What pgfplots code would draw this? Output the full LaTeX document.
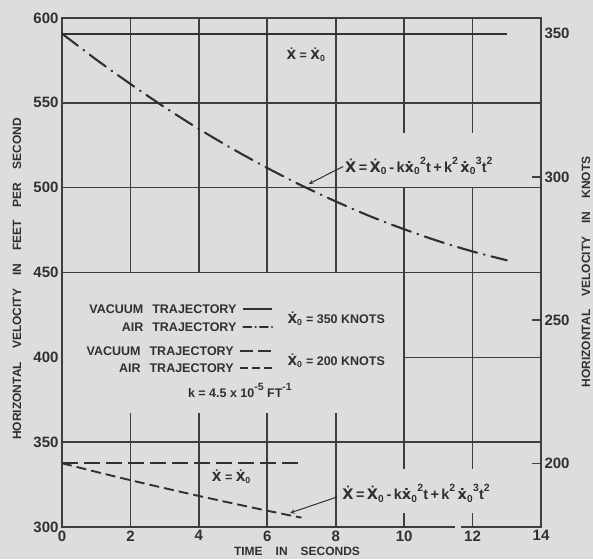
\documentclass[border=0pt]{standalone}
\usepackage{fontspec}
\setmainfont{Liberation Sans}
\newfontfamily\dvs{DejaVu Sans}
\usepackage{pgfplots}
\pgfplotsset{compat=1.18}

\definecolor{paper}{RGB}{221,222,219}
\definecolor{ink}{RGB}{48,48,48}
\definecolor{rule}{RGB}{62,62,62}

% dotted (time-derivative) letters
\newcommand{\Xd}{{\dvs\bfseries Ẋ}}
\newcommand{\xd}{{\dvs\bfseries ẋ}}
\newcommand{\sub}[1]{\textsubscript{#1}}
\newcommand{\up}[1]{\raisebox{0.55em}{\fontsize{10.5}{10.5}\selectfont #1}}
\newcommand{\gap}{\hspace{13pt}}
\newcommand{\lbl}{\fontsize{12.5}{12.5}\selectfont\bfseries}
\newcommand{\eqf}{\fontsize{14.5}{14.5}\selectfont\bfseries}
\newcommand{\airlaw}{\Xd\,=\,\Xd\sub{0}\,-\,k\xd\sub{0}\up{2}t\,+\,k\up{2}\,\xd\sub{0}\up{3}t\up{2}}

\begin{document}
\begin{tikzpicture}[x=1pt,y=1pt]
\fill[paper] (0,0) rectangle (593,559);
\useasboundingbox (0,0) rectangle (593,559);

% ---------------- feet per second ----------------
\begin{axis}[
  at={(62pt,32pt)}, anchor=south west,
  scale only axis, width=479pt, height=509pt,
  xmin=0, xmax=14, ymin=300, ymax=600,
  xtick={0,2,...,14}, ytick={300,350,...,600},
  major tick length=0pt,
  axis line style={draw=rule, line width=1.6pt},
  /pgf/number format/assume math mode=true,
  ticklabel style={font=\fontsize{15}{15}\selectfont\bfseries, text=ink},
  clip=false,
]
% grid, interrupted around the key and the labels
\tikzset{gl/.style={draw=rule, line width=1.6pt}}
\draw[gl] (2,600) -- (2,450);  \draw[gl] (2,367) -- (2,300);
\draw[gl] (4,600) -- (4,450);  \draw[gl] (4,367) -- (4,300);
\draw[gl] (6,600) -- (6,450);  \draw[gl] (6,367) -- (6,300);
\draw[gl] (8,600) -- (8,450);  \draw[gl] (8,367) -- (8,300);
\draw[gl] (10,600) -- (10,532); \draw[gl] (10,500) -- (10,334); \draw[gl] (10,308) -- (10,300);
\draw[gl] (12,600) -- (12,532); \draw[gl] (12,500) -- (12,334); \draw[gl] (12,308) -- (12,300);
\draw[gl] (0,550) -- (14,550);
\draw[gl] (0,500) -- (14,500);
\draw[gl] (0,450) -- (14,450);
\draw[gl] (10,400) -- (14,400);
\draw[gl] (0,350) -- (14,350);

% vacuum trajectory, 350 knots
\addplot[draw=ink, line width=2.1pt] coordinates {(0,590.8) (13,590.8)};
% air trajectory, 350 knots
\addplot[draw=ink, line width=2.1pt, smooth, line cap=round,
  dash pattern=on 20pt off 7pt on 0.8pt off 7pt] coordinates {
  (0,590.8) (1,575.5) (2,561.1) (3,547.4) (4,534.6) (5,522.7) (6,511.6)
  (7,501.3) (8,491.9) (9,483.2) (10,475.5) (11,468.5) (12,462.4) (13,457.2)};
% vacuum trajectory, 200 knots
\addplot[draw=ink, line width=2.1pt, dash pattern=on 16pt off 6pt] coordinates {(0,337.6) (7,337.6)};
% air trajectory, 200 knots
\addplot[draw=ink, line width=1.9pt, smooth, dash pattern=on 10pt off 5pt] coordinates {
  (0,337.6) (1,332.5) (2,327.6) (3,322.9) (4,318.3) (5,313.9) (6,309.6) (7,305.5)};

% key samples
\addplot[draw=ink, line width=1.9pt] coordinates {(5.3,428.5) (6.14,428.5)};
\addplot[draw=ink, line width=1.9pt, line cap=round, dash pattern=on 8pt off 4pt on 0.6pt off 4pt]
  coordinates {(5.3,417.9) (6.14,417.9)};
\addplot[draw=ink, line width=1.9pt, dash pattern=on 13pt off 5pt] coordinates {(5.2,403.8) (6.14,403.8)};
\addplot[draw=ink, line width=1.9pt, dash pattern=on 8pt off 4pt] coordinates {(5.2,393.8) (6.14,393.8)};

% key text
\node[anchor=east, font=\lbl, text=ink] at (5.2,428.5) {VACUUM\hspace{9pt}TRAJECTORY};
\node[anchor=east, font=\lbl, text=ink] at (5.2,417.9) {AIR\hspace{9pt}TRAJECTORY};
\node[anchor=east, font=\lbl, text=ink] at (5.12,403.8) {VACUUM\hspace{9pt}TRAJECTORY};
\node[anchor=east, font=\lbl, text=ink] at (5.12,393.8) {AIR\hspace{9pt}TRAJECTORY};
\node[anchor=base west, font=\lbl, text=ink] at (6.49,420.0) {\Xd\sub{0} = 350 KNOTS};
\node[anchor=base west, font=\lbl, text=ink] at (6.49,395.2) {\Xd\sub{0} = 200 KNOTS};
\node[anchor=base, font=\lbl, text=ink] at (5.2,376.4)
  {k = 4.5 x 10\up{-5} FT\up{-1}};

% curve labels
\node[anchor=base, font=\lbl, text=ink] at (7.13,575.5) {\Xd\ =\ \Xd\sub{0}};
\node[anchor=base, font=\lbl, text=ink] at (4.95,326.6) {\Xd\ =\ \Xd\sub{0}};
\node[anchor=base west, font=\eqf, text=ink, inner sep=0pt] at (8.27,509) {\airlaw};
\node[anchor=base west, font=\eqf, text=ink, inner sep=0pt] at (8.19,316) {\airlaw};
\draw[draw=ink, line width=1pt, -stealth] (8.22,512.5) -- (7.22,502.3);
\draw[draw=ink, line width=1pt, -stealth] (8.04,317.7) -- (6.67,308.3);
\end{axis}

% ---------------- knots ----------------
\begin{axis}[
  at={(62pt,32pt)}, anchor=south west,
  scale only axis, width=479pt, height=509pt,
  xmin=0, xmax=14, ymin=177.74, ymax=355.49,
  hide x axis, axis y line*=right,
  ytick={200,250,300}, extra y ticks={350},
  extra y tick style={major tick length=0pt},
  tick align=inside, major tick length=9pt,
  tick style={draw=rule, line width=1.4pt},
  axis line style={draw=rule, line width=1.6pt},
  /pgf/number format/assume math mode=true,
  ticklabel style={font=\fontsize{15}{15}\selectfont\bfseries, text=ink},
  clip=false,
]
\addplot[draw=none] coordinates {(0,200)};
% break in the time axis line
\draw[paper, line width=3.5pt] (11.49,177.74) -- (11.67,177.74);
\end{axis}

% axis titles
\node[rotate=90, font=\fontsize{12}{12}\selectfont\bfseries, text=ink] at (17,280)
  {HORIZONTAL\gap VELOCITY\gap IN\gap FEET\gap PER\gap SECOND};
\node[rotate=90, font=\fontsize{12}{12}\selectfont\bfseries, text=ink] at (586,287)
  {HORIZONTAL\gap VELOCITY\gap IN\gap KNOTS};
\node[font=\fontsize{12}{12}\selectfont\bfseries, text=ink] at (297,8)
  {TIME\gap IN\gap SECONDS};
\end{tikzpicture}
\end{document}
